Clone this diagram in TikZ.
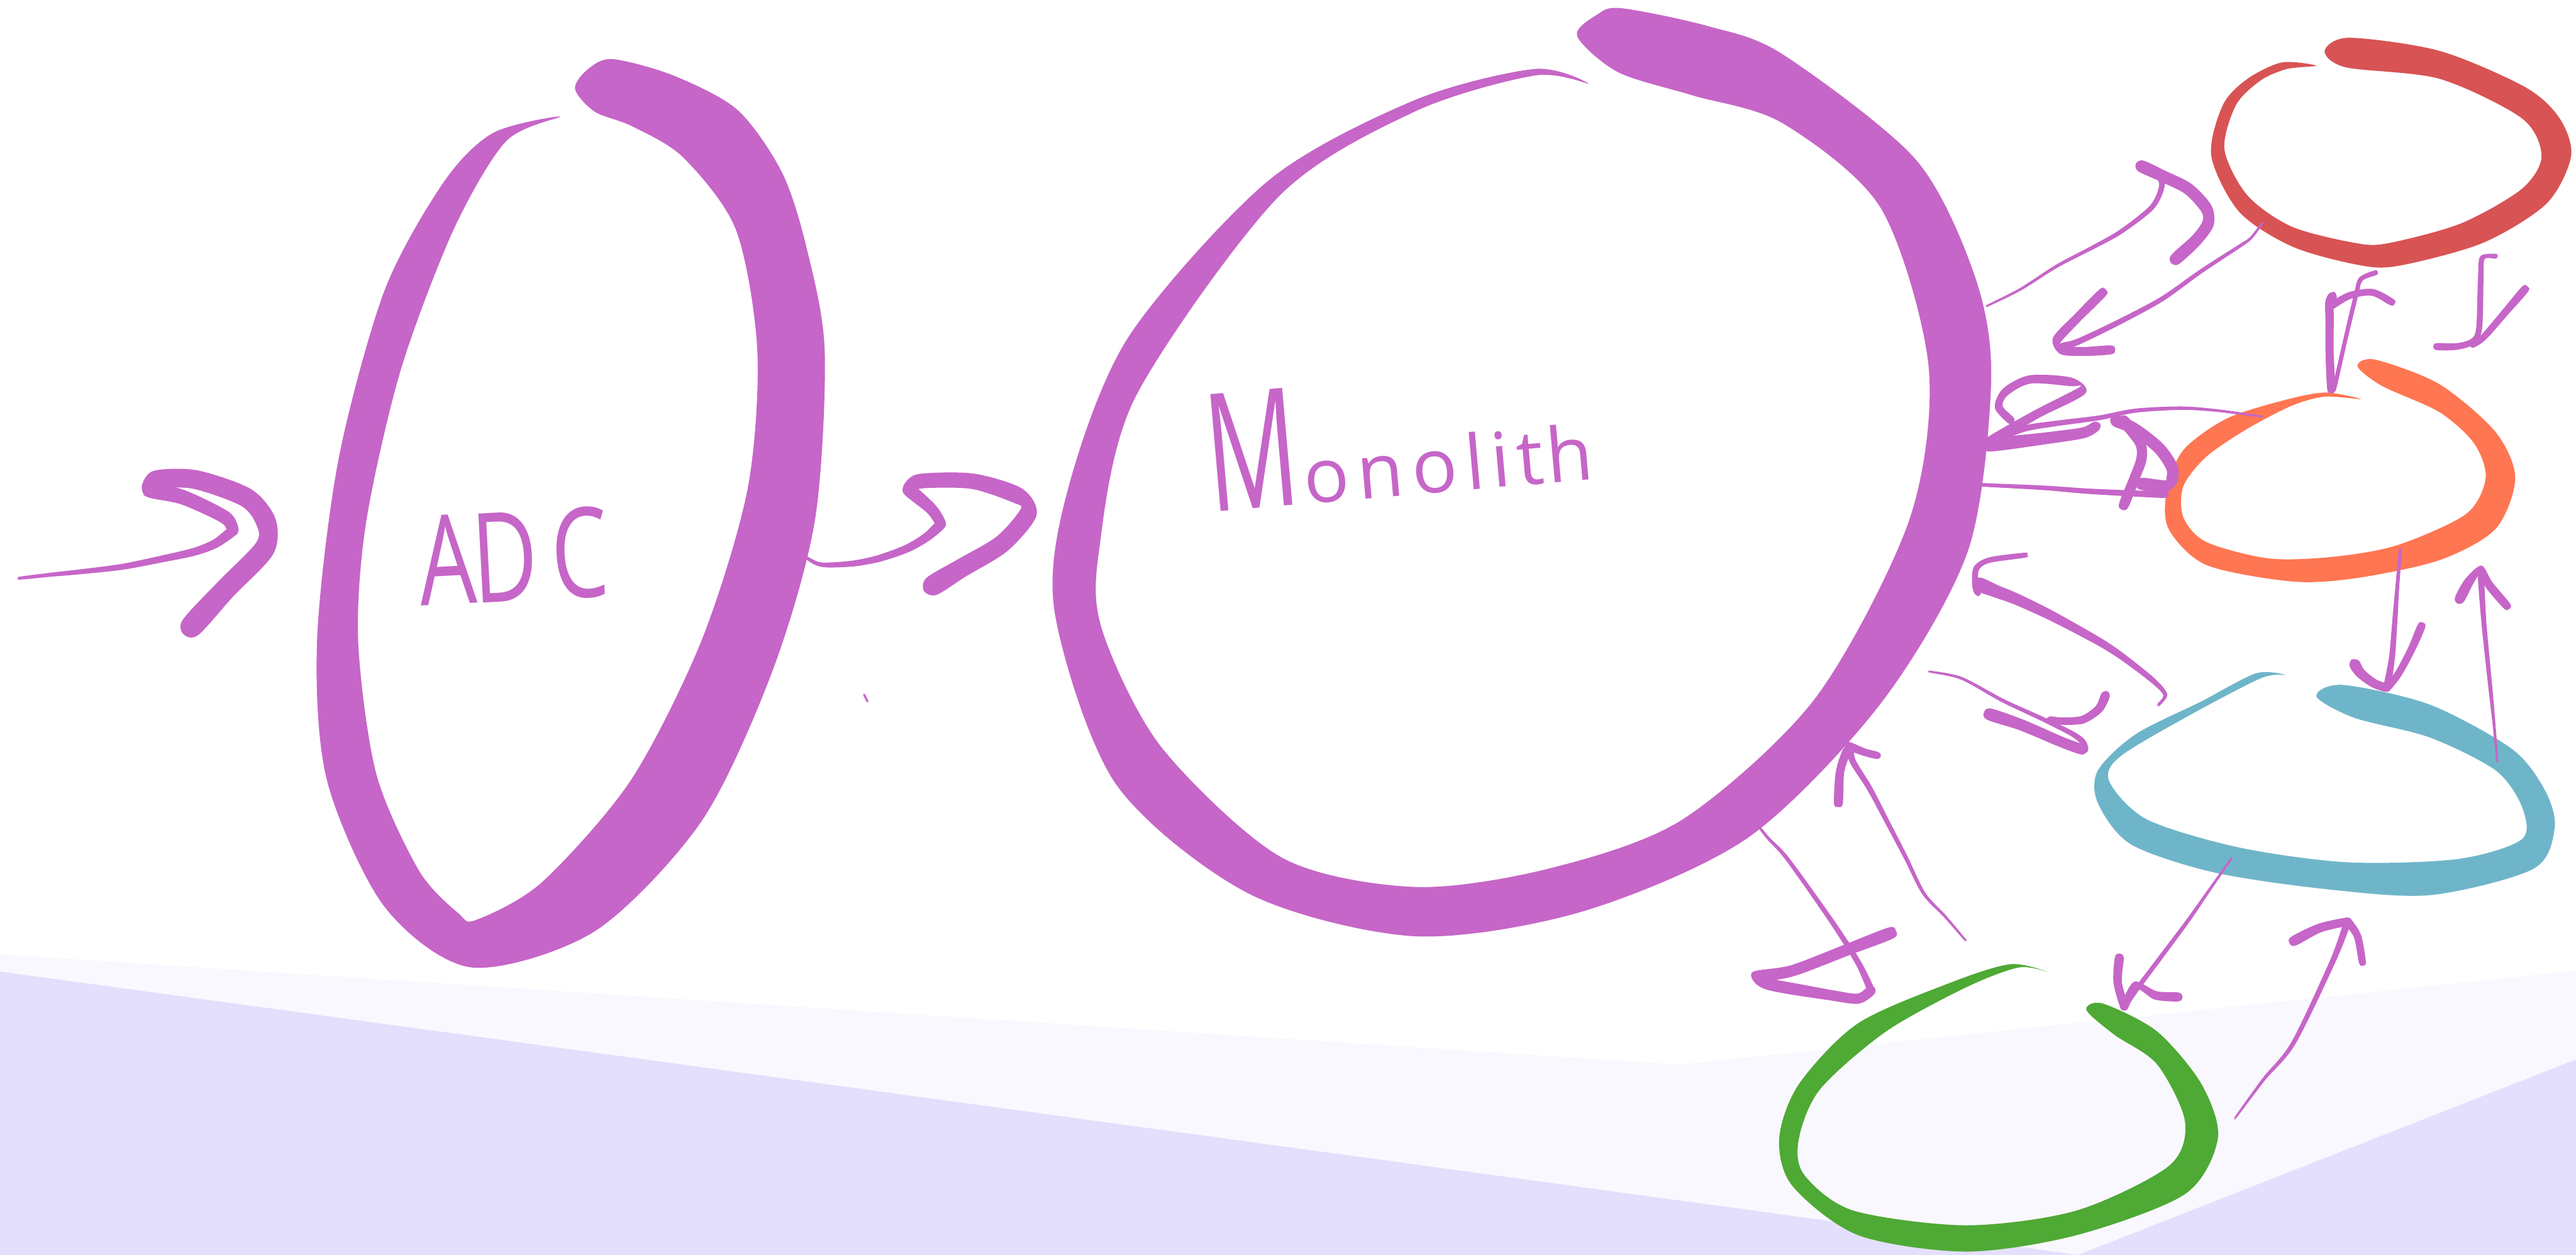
\documentclass[tikz,border=0pt]{standalone}
\usepackage{fontspec}
\usepackage{graphicx}
\newfontfamily\handfont{Open Sans}
\definecolor{pur}{RGB}{198,102,200}
\definecolor{rd}{RGB}{216,83,84}
\definecolor{org}{RGB}{255,118,82}
\definecolor{tel}{RGB}{111,181,201}
\definecolor{grn}{RGB}{79,169,53}
\definecolor{lav}{RGB}{228,223,253}
\definecolor{lite}{RGB}{249,248,254}
\tikzset{
  ring/.style={smooth cycle, tension=0.5},
  lbl/.style={text=pur, inner sep=0pt, font=\handfont},
}
\newcount\bn
% tapered hand stroke, drawn as a filled outline
% #1 start width, #2 end width, #3 list x/y,...
\newcommand\tube[3]{%
  \global\bn=0
  \foreach \x/\y in {#3}{%
    \global\advance\bn by 1
    \expandafter\xdef\csname bx\the\bn\endcsname{\x}%
    \expandafter\xdef\csname by\the\bn\endcsname{\y}%
  }%
  \edef\bN{\the\bn}%
  \gdef\bLpath{}\gdef\bRpath{}%
  \foreach \i in {1,...,\bN}{%
    \pgfmathtruncatemacro\ia{max(\i-1,1)}%
    \pgfmathtruncatemacro\ib{min(\i+1,\bN)}%
    \edef\xa{\csname bx\ia\endcsname}\edef\ya{\csname by\ia\endcsname}%
    \edef\xb{\csname bx\i\endcsname}\edef\yb{\csname by\i\endcsname}%
    \edef\xc{\csname bx\ib\endcsname}\edef\yc{\csname by\ib\endcsname}%
    \pgfmathsetmacro\btx{\xc-\xa}\pgfmathsetmacro\bty{\yc-\ya}%
    \pgfmathsetmacro\btl{max(veclen(\btx,\bty),0.01)}%
    \pgfmathsetmacro\bhh{0.6*(#1+(#2-#1)*(\i-1)/(\bN-1))}%
    \pgfmathsetmacro\bnx{-\bty/\btl*\bhh}\pgfmathsetmacro\bny{\btx/\btl*\bhh}%
    \pgfmathsetmacro\blx{\xb+\bnx}\pgfmathsetmacro\bly{\yb+\bny}%
    \pgfmathsetmacro\brx{\xb-\bnx}\pgfmathsetmacro\bry{\yb-\bny}%
    \xdef\bLpath{\bLpath (\blx,\bly)}%
    \xdef\bRpath{(\brx,\bry) \bRpath}%
    \ifnum\i=1\relax
      \pgfmathsetmacro\bsx{\xb-\btx/\btl*\bhh*0.9}\pgfmathsetmacro\bsy{\yb-\bty/\btl*\bhh*0.9}%
      \xdef\bSpt{(\bsx,\bsy)}%
    \fi
    \ifnum\i=\bN\relax
      \pgfmathsetmacro\bex{\xb+\btx/\btl*\bhh*0.9}\pgfmathsetmacro\bey{\yb+\bty/\btl*\bhh*0.9}%
      \xdef\bEpt{(\bex,\bey)}%
    \fi
  }%
  \edef\btmp{\noexpand\fill[pur] plot[smooth cycle, tension=0.5] coordinates {\bLpath\space\bEpt\space\bRpath\space\bSpt};}%
  \btmp
}
\begin{document}
\begin{tikzpicture}[x=1pt,y=-1pt]
\useasboundingbox (0,0) rectangle (1568,764);
\fill[white] (0,0) rectangle (1568,764);
% floor
\fill[lite] (0,581) -- (1568,684) -- (1568,764) -- (0,764) -- cycle;
\fill[lite] (680,684) -- (1568,591) -- (1568,764) -- (680,764) -- cycle;
\fill[lav] (0,591.5) -- (1265,764) -- (1568,645) -- (1568,764) -- (0,764) -- cycle;

% named centres
\coordinate (adcC) at (348,310);
\coordinate (monoC) at (925,290);
\coordinate (redC) at (1455,95);
\coordinate (orgC) at (1425,296);
\coordinate (telC) at (1415,478);
\coordinate (grnC) at (1215,678);

% ADC ring
\fill[pur] plot[ring] coordinates {
 (350,54) (358,42) (373,36) (410,46) (449,67) (476,105) (491,151) (502,214) (496,317) (470,409) (427,500) (362,567) (287,589) (234,552) (199,475) (193,390) (206,280) (234,177) (270,111) (300,81) (341,71)
 (308,86) (276,140) (244,225) (223,317) (218,390) (229,471) (255,530) (279,556) (290,560) (330,537) (384,475) (427,390) (455,298) (461,214) (448,140) (416,96) (385,77) (362,68)};
% Monolith ring
\fill[pur] plot[ring] coordinates {
 (960,22) (972,9) (987,5) (1040,16) (1085,33) (1166,97) (1202,168) (1212,231) (1198,335) (1145,428) (1064,510) (963,555) (861,570) (760,544) (679,477) (642,373) (650,298) (687,205) (772,110) (861,61) (934,42) (967,51)
 (934,46) (861,68) (778,120) (691,242) (669,335) (671,384) (707,455) (780,522) (861,540) (942,529) (1024,499) (1105,425) (1162,317) (1174,224) (1145,127) (1085,75) (1030,58) (985,44)};
% red ring
\fill[rd] plot[ring] coordinates {
 (1415,31) (1430,23) (1485,31) (1537,53) (1558,72) (1565,95) (1550,124) (1511,148) (1459,162) (1434,161) (1395,150) (1363,129) (1346,95) (1353,64) (1368,48) (1389,38) (1410,40)
 (1392,42) (1376,49) (1361,64) (1354,91) (1368,119) (1395,138) (1434,148) (1454,148) (1498,136) (1535,115) (1547,95) (1535,72) (1485,48) (1428,41)};
% orange ring
\fill[org] plot[ring] coordinates {
 (1435,223) (1446,219) (1485,234) (1519,263) (1531,291) (1519,322) (1485,341) (1434,352) (1395,354) (1343,344) (1320,322) (1319,298) (1329,274) (1355,255) (1389,244) (1415,239) (1437,243)
 (1415,241.5) (1395,247) (1368,261) (1343,278) (1329,296) (1329,315) (1343,330) (1381,340) (1420,339) (1459,332) (1501,313) (1513,291) (1506,270) (1485,251) (1450,235)};
% teal ring
\fill[tel] plot[ring] coordinates {
 (1410,424) (1426,417) (1479,429) (1529,456) (1549,481) (1555,504) (1542,529) (1479,545) (1413,541) (1347,531) (1297,514) (1277,489) (1277,469) (1300,447) (1340,427) (1373,410) (1391,411)
 (1376,413) (1330,437) (1290,461) (1284,476) (1307,499) (1363,516) (1429,525) (1496,523) (1535,511) (1535,491) (1519,469) (1479,449) (1433,437)};
% green ring
\fill[grn] plot[ring] coordinates {
 (1270,615) (1280,611) (1313,628) (1340,660) (1350,693) (1330,727) (1264,752) (1197,762) (1131,752) (1091,722) (1083,693) (1095,660) (1131,623) (1188,598) (1224,587) (1247,592)
 (1229,589) (1197,601) (1148,628) (1108,663) (1095,693) (1098,715) (1128,737) (1197,746) (1264,737) (1320,710) (1330,683) (1313,648) (1287,630)};

% arrow into ADC
\tube{1.5}{5}{12/352,30/350,50/348,75/345,100/340,118/336,131/331,142/323}
\tube{6}{8}{142/323,137/315,112/303,91/298}
\tube{9}{11}{91/298,95/292,119/292,150/303,162/318,161/334,137/359,116/382}

% ADC -> Monolith
\tube{1.5}{5}{490/339,497/343,504/344,520/343,535/340,552/334,564/327,573/319}
\tube{5}{6.5}{573/319,567/310,553/298}
\tube{7}{10}{553/298,560/293,592/293,620/302,626/312,610/331,585/346,567/357}

% A1 monolith -> red
\tube{1}{3.5}{1210/186,1230/176,1252/162,1275/150,1291/141,1310/126,1316/112,1310/104,1303/101}
\tube{6}{6}{1303/101,1316/107,1332/115,1343/127,1344/136,1337/146,1324/158}
% A2 red -> monolith
\tube{1}{3.5}{1377/136,1370/145,1363/150,1340/165,1316/182,1290/196,1265/208,1255/211}
\tube{4.5}{4.5}{1280/178,1265/193,1252/207,1255/213,1268/214,1285/213}
% A3 orange -> monolith
\tube{1}{3.5}{1376/253.5,1350/250,1328/248.5,1300/250,1277.6/254.4,1250/258,1232/261,1211/268.6}
\tube{6.5}{5}{1211/271,1244/267,1268/263.5,1276/259.4}
\tube{4}{4.5}{1224/256,1216.6/247.7,1220.8/238.5,1235.8/231,1260.9/232.6,1267.6/237.6,1240/252,1211/268.6}
% A4 monolith -> orange
\tube{1.5}{3.5}{1182/294,1213/295.5,1244/297,1270/299,1300/300.5,1318/301}
\tube{6}{6}{1287.6/256,1299/261,1314/272.7,1322/284.4,1322/292,1318/296,1303/294.5}
\tube{5.5}{5}{1292.6/256,1302.6/269.4,1303.5/279.4,1299.3/291,1292.6/307.8}
% A5
\tube{2.5}{3.5}{1232.5/338,1211/341,1203/346,1202.4/356,1204/361}
\tube{7}{1.5}{1204/355.5,1215/360,1227/364.6,1245/373,1261/381.4,1280/392,1294/401.4,1311/414.8,1318/423,1314/429}
% A6
\tube{1}{3.5}{1174.8/408.9,1194/413,1219/426.5,1244.2/438.2,1260.9/446.5,1267.6/451.5,1269.2/456.5}
\tube{6}{5}{1210.7/434.8,1230.8/441.5,1254.2/451.5,1267.6/456.5}
\tube{4.5}{3.5}{1281.7/423.1,1277.6/431.5,1267.6/438.2,1254.2/439,1247.5/438.2}
% A7 orange -> teal
\tube{1.5}{3.5}{1461/335,1459/360,1458/374,1456/400,1453/418}
\tube{5.5}{4}{1433/404,1437/410,1445/416,1453/419}
\tube{4}{3.5}{1474/381,1468/395,1460/410,1453/419}
% A8 teal -> orange
\tube{1}{3}{1520/463,1518/440,1516/420,1512/380,1510/350}
\tube{5}{4}{1497/365,1503/354,1510/347,1515/356,1526/369}
% A9 between red and orange
\tube{4}{4.5}{1419/237,1418/215,1418/195,1418/184,1420/180}
\tube{2}{2.5}{1421/236,1428/205,1434/180,1437/170,1446/166}
\tube{3.5}{3.5}{1418/187,1430/180,1444/178,1456/184}
\tube{2.5}{3.5}{1519/156,1511/157,1510/170,1509/200,1505/208,1495/211,1483/211}
\tube{4}{3}{1537/176,1525/190,1512/205,1505/210}
% A10 monolith -> green
\tube{1}{3.5}{1065/496,1076/510,1088/523,1115/561,1131/586,1139/603}
\tube{6}{5}{1151/568,1125/578,1091/591,1068/595,1075/599,1115/606,1131/608,1139/603}
% A11 green -> monolith
\tube{1}{3.5}{1196/572,1184/558,1171/544,1160/522,1148/499,1138/480,1128/464,1126/456}
\tube{4.5}{4}{1119/489,1120/470,1124/457}
\tube{4}{3.5}{1125/454,1135/458,1143/460}
% A12 teal -> green
\tube{1}{3}{1358/523,1344/543,1330/563,1300/603,1293/613}
\tube{4.5}{4}{1290/583,1289/598,1293/613}
\tube{4}{4.5}{1293/613,1300/600,1312/606,1326/607}
% A13 green -> teal
\tube{1}{3.5}{1361/680,1378/657,1396/635,1420/585,1429/561}
\tube{5}{4}{1396/573,1412/565,1429/561}
\tube{4}{3.5}{1429/561,1435/570,1438/586}
% speck
\tube{1}{1}{526/423,528/427}

% labels (drawn last)
\node[lbl, anchor=base west, rotate=3] (adc) at (256,369)
  {\fontsize{76}{76}\selectfont\scalebox{0.72}[1]{A\kern-3pt D\kern12pt C}};
\node[lbl, anchor=base west, rotate=5] (mono) at (737,312)
  {{\fontsize{100}{100}\selectfont\scalebox{0.62}[1]{M}}\kern2pt{\fontsize{46}{46}\selectfont o\kern5pt n\kern5pt o\kern5pt l\kern4pt i\kern4pt t\kern2pt h}};
\end{tikzpicture}
\end{document}
